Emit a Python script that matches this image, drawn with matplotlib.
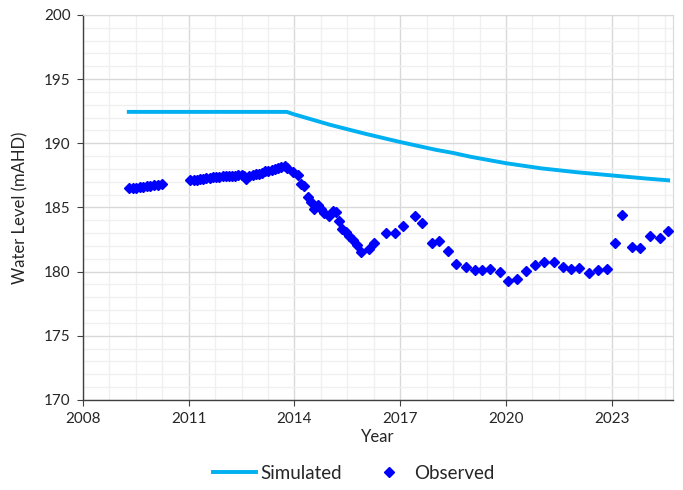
import numpy as np
import matplotlib.pyplot as plt
from matplotlib.ticker import FixedLocator, MultipleLocator

plt.rcParams['font.family'] = ['Lato', 'DejaVu Sans']

# simulated water level (mAHD)
sim_year = [2009.30, 2013.78, 2014.0, 2014.5, 2015.0, 2016.0, 2017.0, 2018.0,
            2018.5, 2019.0, 2020.0, 2021.0, 2021.5, 2022.0, 2023.0, 2024.0, 2024.6]
sim_level = [192.45, 192.45, 192.25, 191.85, 191.45, 190.75, 190.1, 189.5,
             189.25, 188.95, 188.45, 188.05, 187.9, 187.75, 187.5, 187.25, 187.12]

# observed water level (mAHD)
obs_year = [2009.31, 2009.41, 2009.51, 2009.61, 2009.71, 2009.81, 2009.91, 2010.01, 2010.12, 2010.23,
            2011.05, 2011.14, 2011.23, 2011.32, 2011.41, 2011.50, 2011.60, 2011.69, 2011.78, 2011.87,
            2011.96, 2012.05, 2012.14, 2012.23, 2012.32, 2012.41, 2012.50, 2012.56, 2012.63, 2012.72,
            2012.81, 2012.90, 2012.99, 2013.08, 2013.17, 2013.26, 2013.35, 2013.44, 2013.53, 2013.62,
            2013.72, 2013.80, 2013.95, 2014.09, 2014.19, 2014.28, 2014.37, 2014.47, 2014.56, 2014.66,
            2014.75, 2014.85, 2014.97, 2015.08, 2015.18, 2015.27, 2015.36, 2015.46, 2015.55, 2015.65,
            2015.76, 2015.88, 2016.12, 2016.26, 2016.61, 2016.85, 2017.08, 2017.41, 2017.63, 2017.89,
            2018.10, 2018.35, 2018.59, 2018.87, 2019.12, 2019.32, 2019.56, 2019.82, 2020.06, 2020.31,
            2020.58, 2020.81, 2021.07, 2021.35, 2021.61, 2021.85, 2022.06, 2022.36, 2022.60, 2022.86,
            2023.10, 2023.30, 2023.57, 2023.80, 2024.09, 2024.37, 2024.60]
obs_level = [186.50, 186.48, 186.55, 186.58, 186.62, 186.65, 186.68, 186.72, 186.75, 186.82,
             187.12, 187.15, 187.18, 187.22, 187.25, 187.30, 187.33, 187.36, 187.38, 187.40,
             187.42, 187.44, 187.45, 187.47, 187.48, 187.50, 187.52, 187.45, 187.22, 187.45,
             187.55, 187.58, 187.62, 187.68, 187.82, 187.88, 187.92, 188.00, 188.05, 188.15,
             188.20, 188.05, 187.80, 187.50, 186.85, 186.65, 185.85, 185.45, 184.85, 185.20,
             184.90, 184.55, 184.30, 184.75, 184.65, 183.95, 183.35, 183.10, 182.75, 182.45,
             182.05, 181.50, 181.75, 182.25, 183.00, 182.98, 183.55, 184.30, 183.80, 182.25,
             182.40, 181.62, 180.60, 180.33, 180.12, 180.12, 180.20, 179.99, 179.30, 179.45,
             180.07, 180.54, 180.77, 180.72, 180.40, 180.18, 180.30, 179.92, 180.12, 180.18,
             182.20, 184.45, 181.94, 181.81, 182.77, 182.60, 183.15]

fig = plt.figure(figsize=(6.83, 4.9), dpi=100)
ax = fig.add_axes([0.1215, 0.1837, 0.8645, 0.7857])

ax.plot(sim_year, sim_level, color='#00B0F0', lw=2.8, label='Simulated', zorder=3)
ax.plot(obs_year, obs_level, ls='none', marker='D', ms=5.2, color='#0000FF',
        mec='#0000FF', label='Observed', zorder=4)

ax.set_xlim(2008, 2024.75)
ax.set_ylim(170, 200)
# year axis starts at 2008, major every 3 years, minor every 9 months
ax.xaxis.set_major_locator(FixedLocator(np.arange(2008, 2025, 3)))
ax.xaxis.set_minor_locator(FixedLocator(np.arange(2008, 2025, 0.75)))
ax.yaxis.set_major_locator(MultipleLocator(5))
ax.yaxis.set_minor_locator(MultipleLocator(1))
ax.grid(which='major', color='#d9d9d9', lw=1.0, zorder=0)
ax.grid(which='minor', color='#f0f0f0', lw=1.0, zorder=0)
ax.set_axisbelow(True)

for side in ['top', 'right']:
    ax.spines[side].set_color('#d9d9d9')
for side in ['left', 'bottom']:
    ax.spines[side].set_color('#404040')
    ax.spines[side].set_linewidth(1.0)
ax.tick_params(which='major', direction='out', length=4, color='#404040',
               labelsize=11, labelcolor='#262626', pad=5)
ax.tick_params(which='minor', length=0)

ax.set_xlabel('Year', fontsize=12, color='#262626', labelpad=2)
ax.set_ylabel('Water Level (mAHD)', fontsize=12, color='#262626', labelpad=11)

fig.legend(loc='center', bbox_to_anchor=(0.518, 0.034), ncol=2, frameon=False,
           fontsize=13.5, handlelength=2.3, columnspacing=1.36, handletextpad=0.2,
           labelcolor='#262626')

fig.savefig('out.png', dpi=100)
